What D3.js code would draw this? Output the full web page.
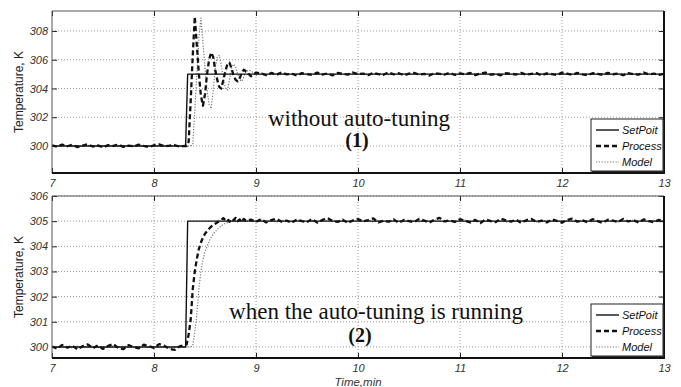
<!DOCTYPE html>
<html>
<head>
<meta charset="utf-8">
<script src="https://cdn.jsdelivr.net/npm/d3@7"></script>
<style>
  body { margin: 0; background: #fff; }
  svg { display: block; }
</style>
</head>
<body>
<svg></svg>
<script>
// shared time grid, minutes
const time = [
  7.00, 7.05, 7.10, 7.15, 7.20, 7.25, 7.30, 7.35, 7.40, 7.45,
  7.50, 7.55, 7.60, 7.65, 7.70, 7.75, 7.80, 7.85, 7.90, 7.95,
  8.00, 8.05, 8.10, 8.15, 8.20, 8.25, 8.30,
  8.32, 8.34, 8.36, 8.38, 8.40, 8.42, 8.44, 8.46, 8.48, 8.50,
  8.52, 8.54, 8.56, 8.58, 8.60, 8.62, 8.64, 8.66, 8.68, 8.70,
  8.72, 8.74, 8.76, 8.78, 8.80, 8.82, 8.84, 8.86, 8.88, 8.90,
  8.95, 9.00,
  9.05, 9.10, 9.15, 9.20, 9.25, 9.30, 9.35, 9.40, 9.45, 9.50,
  9.55, 9.60, 9.65, 9.70, 9.75, 9.80, 9.85, 9.90, 9.95, 10.00,
  10.05, 10.10, 10.15, 10.20, 10.25, 10.30, 10.35, 10.40, 10.45, 10.50,
  10.55, 10.60, 10.65, 10.70, 10.75, 10.80, 10.85, 10.90, 10.95, 11.00,
  11.05, 11.10, 11.15, 11.20, 11.25, 11.30, 11.35, 11.40, 11.45, 11.50,
  11.55, 11.60, 11.65, 11.70, 11.75, 11.80, 11.85, 11.90, 11.95, 12.00,
  12.05, 12.10, 12.15, 12.20, 12.25, 12.30, 12.35, 12.40, 12.45, 12.50,
  12.55, 12.60, 12.65, 12.70, 12.75, 12.80, 12.85, 12.90, 12.95, 13.00
];

const setTime = [7, 8.31, 8.33, 13];
const setPoint = [300, 300, 305, 305];

// (1) without auto-tuning
const processTop = [
  300.05, 299.95, 300.10, 299.98, 300.08, 299.92, 300.02, 300.12, 299.96, 300.04,
  299.90, 300.06, 300.00, 300.10, 299.94, 300.03, 299.97, 300.09, 300.00, 299.93,
  300.05, 300.11, 299.98, 300.02, 300.07, 299.95, 300.00,
  300.00, 300.30, 303.20, 306.30, 309.00, 307.00, 305.00, 303.50, 302.80, 303.60,
  305.00, 306.00, 306.50, 306.20, 305.30, 304.60, 304.10, 304.00, 304.60, 305.20,
  305.70, 305.80, 305.40, 304.90, 304.60, 304.50, 304.70, 305.10, 305.30, 305.20,
  304.85, 305.10,
  305.05, 304.92, 305.08, 304.95, 305.12, 304.98, 305.03, 304.90, 305.07, 305.00,
  304.94, 305.10, 304.97, 305.05, 304.91, 305.08, 305.02, 304.96, 305.11, 304.99,
  305.04, 304.93, 305.09, 305.00, 304.95, 305.13, 304.98, 305.06, 304.92, 305.03,
  305.08, 304.96, 305.01, 304.90, 305.07, 305.02, 304.97, 305.10, 304.94, 305.05,
  304.99, 305.08, 304.93, 305.04, 305.11, 304.96, 305.00, 304.92, 305.06, 305.03,
  304.97, 305.09, 304.95, 305.02, 305.07, 304.91, 305.05, 305.00, 304.94, 305.10,
  305.03, 304.96, 305.08, 304.98, 304.93, 305.06, 305.01, 304.95, 305.09, 304.99,
  305.04, 304.92, 305.07, 305.00, 304.96, 305.11, 304.98, 305.03, 304.94, 305.02
];
const modelTop = [
  300.02, 299.98, 300.04, 300.00, 299.96, 300.03, 299.99, 300.05, 299.97, 300.01,
  299.95, 300.03, 300.00, 300.04, 299.98, 300.02, 299.96, 300.03, 300.00, 299.97,
  300.02, 300.04, 299.99, 300.01, 300.03, 299.98, 300.00,
  300.00, 300.00, 300.00, 300.10, 302.50, 305.00, 307.50, 308.90, 307.20, 305.40,
  303.90, 302.90, 302.60, 303.80, 305.40, 306.20, 306.30, 305.60, 304.70, 304.00,
  303.90, 304.60, 305.40, 305.70, 305.50, 305.00, 304.60, 304.50, 304.80, 305.20,
  305.25, 304.90,
  305.08, 304.96, 305.04, 305.00, 304.97, 305.05, 304.99, 305.03, 304.96, 305.02,
  305.00, 304.98, 305.04, 304.97, 305.02, 305.00, 304.96, 305.05, 305.01, 304.98,
  305.03, 304.97, 305.01, 305.04, 304.99, 304.96, 305.02, 305.00, 305.05, 304.98,
  305.01, 304.97, 305.03, 304.99, 305.04, 305.00, 304.96, 305.02, 304.98, 305.03,
  305.00, 304.97, 305.04, 305.01, 304.98, 305.02, 304.96, 305.03, 305.00, 304.99,
  305.04, 304.97, 305.01, 304.98, 305.03, 305.00, 304.96, 305.02, 305.05, 304.99,
  305.01, 304.97, 305.03, 305.00, 304.98, 305.04, 304.99, 305.02, 304.96, 305.01,
  305.03, 304.98, 305.00, 305.04, 304.97, 305.02, 304.99, 305.01, 304.96, 305.00
];

// (2) when the auto-tuning is running
const processBottom = [
  300.02, 299.93, 300.08, 299.97, 300.05, 299.90, 300.03, 300.10, 299.95, 300.06,
  299.92, 300.04, 300.12, 299.96, 299.91, 300.07, 300.00, 299.94, 300.09, 300.03,
  299.96, 300.11, 300.05, 299.92, 299.88, 300.02, 300.08,
  300.10, 300.50, 301.10, 302.30, 303.00, 303.50, 303.90, 304.15, 304.35, 304.50,
  304.60, 304.70, 304.78, 304.85, 304.90, 304.95, 305.00, 305.05, 305.12, 305.03,
  305.08, 304.98, 305.10, 305.04, 305.13, 305.00, 305.07, 304.96, 305.09, 305.02,
  305.06, 304.97,
  305.08, 304.95, 305.04, 305.10, 304.98, 305.02, 304.93, 305.07, 305.00, 304.96,
  305.09, 304.94, 305.05, 305.12, 305.01, 304.97, 305.06, 304.92, 305.03, 305.08,
  304.99, 305.04, 305.11, 304.95, 305.02, 304.98, 305.07, 304.93, 305.05, 305.00,
  304.96, 305.09, 305.02, 304.94, 305.06, 305.13, 304.99, 305.03, 304.97, 305.08,
  305.01, 304.95, 305.05, 304.92, 305.07, 305.00, 304.96, 305.10, 305.03, 304.98,
  305.06, 304.93, 305.04, 305.09, 304.97, 305.02, 304.95, 305.07, 305.01, 304.94,
  305.05, 305.10, 304.98, 305.03, 304.96, 305.08, 305.00, 304.93, 305.06, 305.02,
  304.97, 305.09, 304.99, 305.04, 304.95, 305.07, 305.01, 304.96, 305.05, 305.00
];
const modelBottom = [
  300.01, 299.97, 300.04, 300.00, 299.96, 300.03, 299.98, 300.05, 300.00, 299.97,
  300.02, 299.99, 300.04, 299.96, 300.01, 300.03, 299.98, 300.00, 300.04, 299.97,
  300.02, 299.99, 300.03, 299.96, 300.00, 300.02, 299.98,
  300.00, 300.00, 300.00, 300.05, 300.60, 301.30, 302.30, 303.00, 303.45, 303.80,
  304.00, 304.20, 304.35, 304.48, 304.58, 304.67, 304.75, 304.82, 304.87, 304.91,
  304.94, 304.97, 304.99, 305.00, 305.03, 304.98, 305.04, 305.00, 305.05, 304.99,
  305.03, 304.98,
  305.04, 304.99, 305.02, 304.96, 305.03, 305.00, 304.97, 305.05, 305.01, 304.98,
  305.03, 304.96, 305.02, 305.00, 305.04, 304.98, 305.01, 304.97, 305.03, 305.00,
  304.99, 305.04, 304.97, 305.02, 305.00, 304.96, 305.03, 305.01, 304.98, 305.05,
  305.00, 304.97, 305.02, 304.99, 305.04, 305.00, 304.96, 305.03, 304.98, 305.01,
  305.04, 304.99, 305.02, 304.97, 305.00, 305.03, 304.98, 305.01, 304.96, 305.02,
  305.00, 305.04, 304.98, 305.01, 304.97, 305.03, 305.00, 304.99, 305.02, 304.96,
  305.03, 305.00, 304.98, 305.04, 305.01, 304.97, 305.02, 304.99, 305.03, 305.00,
  304.97, 305.02, 304.99, 305.04, 304.98, 305.01, 304.96, 305.03, 305.00, 305.02
];

const xTicks = [7, 8, 9, 10, 11, 12, 13];
const yTicksTop = [300, 302, 304, 306, 308];
const yTicksBottom = [300, 301, 302, 303, 304, 305, 306];
const legendNames = ["SetPoit", "Process", "Model"];

var svgWidth = 681, svgHeight = 387;
var svg = d3.select("svg").attr("width", svgWidth).attr("height", svgHeight);

var x = d3.scaleLinear().domain([7, 13]).range([52, 664]);

var styles = [
  { stroke: "#111", width: 1.4, dash: null },
  { stroke: "#111", width: 2.3, dash: "5,3" },
  { stroke: "#777", width: 1.2, dash: "1.2,1.6" }
];

function drawPanel(opt) {
  var y = d3.scaleLinear().domain(opt.domain).range([opt.bottom, opt.top]);
  var g = svg.append("g");
  var clipId = "clip" + opt.id;
  svg.append("clipPath").attr("id", clipId).append("rect")
    .attr("x", x(7)).attr("y", opt.top)
    .attr("width", x(13) - x(7)).attr("height", opt.bottom - opt.top);

  // grid
  g.append("g").selectAll("line").data(xTicks.slice(1, -1)).join("line")
    .attr("x1", d => x(d)).attr("x2", d => x(d))
    .attr("y1", opt.top).attr("y2", opt.bottom)
    .attr("stroke", "#999").attr("stroke-dasharray", "1,2");
  g.append("g").selectAll("line").data(opt.ticks).join("line")
    .attr("x1", x(7)).attr("x2", x(13))
    .attr("y1", d => y(d)).attr("y2", d => y(d))
    .attr("stroke", "#999").attr("stroke-dasharray", "1,2");

  // axes with inward ticks
  var axL = g.append("g").attr("transform", "translate(" + x(7) + ",0)")
    .call(d3.axisLeft(y).tickValues(opt.ticks).tickSize(-5).tickPadding(4).tickFormat(d3.format("d")));
  var axR = g.append("g").attr("transform", "translate(" + x(13) + ",0)")
    .call(d3.axisRight(y).tickValues(opt.ticks).tickSize(-5).tickFormat(""));
  var axB = g.append("g").attr("transform", "translate(0," + opt.bottom + ")")
    .call(d3.axisBottom(x).tickValues(xTicks).tickSize(-5).tickPadding(6).tickFormat(d3.format("d")));
  var axT = g.append("g").attr("transform", "translate(0," + opt.top + ")")
    .call(d3.axisTop(x).tickValues(xTicks).tickSize(-5).tickFormat(""));
  [axL, axR, axB, axT].forEach(function(a) {
    a.select(".domain").remove();
    a.selectAll(".tick line").attr("stroke", "#222");
    a.selectAll("text").attr("font-family", "Arial, 'Liberation Sans', sans-serif")
      .attr("font-style", "italic").attr("font-size", 11).attr("fill", "#333");
  });

  // series
  var line = d3.line().x(d => x(d[0])).y(d => y(d[1]));
  var series = [
    d3.zip(setTime, opt.set),
    d3.zip(time, opt.process),
    d3.zip(time, opt.model)
  ];
  var lg = g.append("g").attr("clip-path", "url(#" + clipId + ")");
  [2, 0, 1].forEach(function(i) {
    lg.append("path").datum(series[i])
      .attr("fill", "none")
      .attr("stroke", styles[i].stroke)
      .attr("stroke-width", styles[i].width)
      .attr("stroke-dasharray", styles[i].dash)
      .attr("stroke-linejoin", "round")
      .attr("d", line);
  });

  // frame
  g.append("line").attr("x1", x(7)).attr("x2", x(13)).attr("y1", opt.top).attr("y2", opt.top)
    .attr("stroke", "#555").attr("stroke-width", 1);
  g.append("line").attr("x1", x(7)).attr("x2", x(7)).attr("y1", opt.top).attr("y2", opt.bottom)
    .attr("stroke", "#555").attr("stroke-width", 1);
  g.append("line").attr("x1", x(7)).attr("x2", x(13) + 1).attr("y1", opt.bottom).attr("y2", opt.bottom)
    .attr("stroke", "#111").attr("stroke-width", 2);
  g.append("line").attr("x1", x(13)).attr("x2", x(13)).attr("y1", opt.top).attr("y2", opt.bottom)
    .attr("stroke", "#111").attr("stroke-width", 2);

  // y label
  g.append("text")
    .attr("transform", "translate(23," + ((opt.top + opt.bottom) / 2) + ") rotate(-90)")
    .attr("text-anchor", "middle")
    .attr("font-family", "Arial, 'Liberation Sans', sans-serif")
    .attr("font-size", 12).attr("fill", "#222")
    .text("Temperature, K");

  // annotation
  g.append("text").attr("x", opt.noteX).attr("y", opt.noteY)
    .attr("text-anchor", "middle")
    .attr("font-family", "'Liberation Serif', 'Times New Roman', serif")
    .attr("font-size", 23).attr("fill", "#111")
    .text(opt.note);
  g.append("text").attr("x", opt.numX).attr("y", opt.numY)
    .attr("text-anchor", "middle")
    .attr("font-family", "'Liberation Serif', 'Times New Roman', serif")
    .attr("font-weight", "bold")
    .attr("font-size", 20).attr("fill", "#111")
    .text(opt.num);

  // legend
  var lx = 591, lw = 72, lh = 52, ly = opt.bottom - lh - 2;
  var leg = g.append("g");
  leg.append("rect").attr("x", lx + 1).attr("y", ly + 1).attr("width", lw).attr("height", lh)
    .attr("fill", "#333");
  leg.append("rect").attr("x", lx).attr("y", ly).attr("width", lw).attr("height", lh)
    .attr("fill", "#fff").attr("stroke", "#222").attr("stroke-width", 1);
  legendNames.forEach(function(name, i) {
    var ry = ly + 11 + i * 16;
    leg.append("line").attr("x1", lx + 5).attr("x2", lx + 28).attr("y1", ry).attr("y2", ry)
      .attr("stroke", styles[i].stroke).attr("stroke-width", styles[i].width)
      .attr("stroke-dasharray", styles[i].dash);
    leg.append("text").attr("x", lx + 31).attr("y", ry + 4)
      .attr("font-family", "Arial, 'Liberation Sans', sans-serif")
      .attr("font-style", "italic").attr("font-size", 11).attr("fill", "#111")
      .text(name);
  });
}

drawPanel({
  id: 1, top: 11, bottom: 173, domain: [298.12, 309.39], ticks: yTicksTop,
  set: setPoint, process: processTop, model: modelTop,
  note: "without auto-tuning", noteX: 359, noteY: 126, num: "(1)", numX: 357, numY: 147
});
drawPanel({
  id: 2, top: 196, bottom: 358, domain: [299.56, 306], ticks: yTicksBottom,
  set: setPoint, process: processBottom, model: modelBottom,
  note: "when the auto-tuning is running", noteX: 376, noteY: 319, num: "(2)", numX: 360, numY: 342
});

svg.append("text").attr("x", 358).attr("y", 386)
  .attr("text-anchor", "middle")
  .attr("font-family", "Arial, 'Liberation Sans', sans-serif")
  .attr("font-style", "italic").attr("font-size", 11.5).attr("fill", "#333")
  .text("Time,min");
</script>
</body>
</html>
